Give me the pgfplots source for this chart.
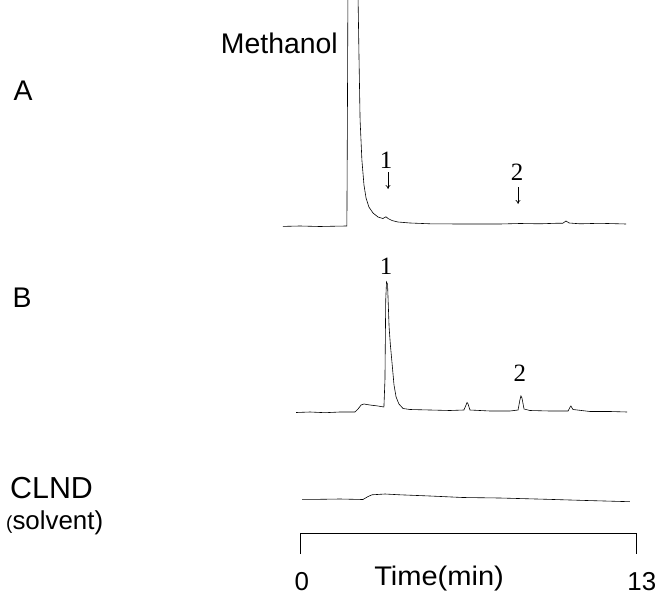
\documentclass[border=0pt]{standalone}
\usepackage{pgfplots}
\pgfplotsset{compat=1.18}
\usepackage{fontspec}
\setmainfont{Liberation Sans}
\newfontfamily\tms{Liberation Serif}
\usetikzlibrary{arrows.meta}

% x: retention time (min); y: vertical position of the trace (page units, downwards)
\pgfplotstableread{
t y
-0.66 226.4
0.00 226.0
0.77 226.5
1.54 226.1
1.81 226.0
1.83 120.0
1.85 -5.0
2.24 -5.0
2.28 60.0
2.32 120.0
2.39 160.0
2.47 185.0
2.55 198.0
2.66 207.0
2.82 213.0
3.01 217.0
3.20 218.5
3.32 216.8
3.40 218.5
3.55 220.5
3.78 222.0
4.25 223.0
5.02 223.8
6.18 224.0
7.72 224.0
8.49 223.5
9.27 223.8
9.85 223.3
10.15 223.2
10.27 221.0
10.39 223.0
10.81 223.8
11.58 223.3
12.59 224.0
}\traceA

\pgfplotstableread{
t y
-0.15 412.5
0.39 412.0
0.97 412.7
1.54 412.0
2.12 412.0
2.24 409.0
2.36 405.0
2.47 404.0
2.70 405.0
3.01 406.0
3.24 407.0
3.28 380.0
3.31 300.0
3.34 282.0
3.38 284.0
3.44 327.0
3.49 345.0
3.55 362.0
3.63 385.0
3.71 397.0
3.82 404.0
3.98 408.5
4.25 409.5
5.02 410.0
5.79 410.5
6.33 410.0
6.41 405.0
6.45 402.5
6.49 404.0
6.56 410.0
7.34 411.0
8.11 411.0
8.42 410.0
8.49 400.0
8.53 396.0
8.57 398.0
8.65 409.0
8.88 410.5
9.65 411.0
10.35 411.0
10.43 407.0
10.46 406.0
10.54 409.5
11.20 411.5
11.97 411.5
12.63 412.0
}\traceB

\pgfplotstableread{
t y
0.08 499.3
0.77 499.3
1.54 499.0
2.43 499.5
2.63 496.5
2.78 494.8
3.28 494.0
3.86 494.8
5.02 496.0
6.29 497.5
7.72 498.0
9.54 499.3
11.20 500.6
12.74 501.7
}\traceC

\begin{document}
\begin{tikzpicture}
\begin{axis}[
  width=660bp, height=597bp, scale only axis,
  xmin=-11.583, xmax=13.900,
  ymin=0, ymax=597, y dir=reverse,
  hide axis, clip mode=individual,
]
\addplot[black, line width=0.6pt, mark=none] table[x=t,y=y] {\traceA};
\addplot[black, line width=0.6pt, mark=none] table[x=t,y=y] {\traceB};
\addplot[black, line width=0.6pt, mark=none] table[x=t,y=y] {\traceC};

% time bracket
\draw[black, line width=0.6pt] (axis cs:0,554) -- (axis cs:0,533) -- (axis cs:13,533) -- (axis cs:13,554);

\node[font=\fontsize{26}{29}\selectfont, inner sep=0] at (axis cs:0.07,582) {0};
\node[font=\fontsize{26}{29}\selectfont, inner sep=0] at (axis cs:13.2,582) {13};
\node[font=\fontsize{27}{30}\selectfont, inner sep=0, xscale=1.08] at (axis cs:5.37,579) {Time(min)};

\node[font=\fontsize{28.5}{32}\selectfont, inner sep=0, anchor=east] at (axis cs:1.467,43) {Methanol};
\node[font=\fontsize{28.5}{32}\selectfont, inner sep=0] at (axis cs:-10.69,91) {A};
\node[font=\fontsize{28.5}{32}\selectfont, inner sep=0] at (axis cs:-10.73,298) {B};
\node[font=\fontsize{30.5}{34}\selectfont, inner sep=0, anchor=west] at (axis cs:-11.197,488) {CLND};
\node[font=\fontsize{26}{30}\selectfont, inner sep=0, anchor=west] at (axis cs:-11.35,523) {{\fontsize{19}{22}\selectfont(}solvent)};

\node[font=\tms\fontsize{25}{28}\selectfont, inner sep=0] at (axis cs:3.32,160) {1};
\draw[-{To[length=4pt,width=5pt]}, line width=0.6pt] (axis cs:3.40,172) -- (axis cs:3.40,189);
\node[font=\tms\fontsize{25}{28}\selectfont, inner sep=0] at (axis cs:8.38,172) {2};
\draw[-{To[length=4pt,width=5pt]}, line width=0.6pt] (axis cs:8.42,187) -- (axis cs:8.42,204);

\node[font=\tms\fontsize{25}{28}\selectfont, inner sep=0] at (axis cs:3.32,266) {1};
\node[font=\tms\fontsize{25}{28}\selectfont, inner sep=0] at (axis cs:8.49,373) {2};
\end{axis}
\pgfresetboundingbox
\useasboundingbox (current axis.south west) rectangle (current axis.north east);
\end{tikzpicture}
\end{document}
